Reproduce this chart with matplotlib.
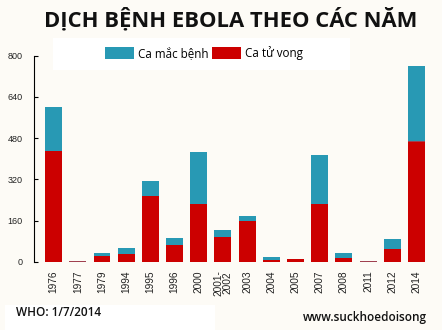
import matplotlib.pyplot as plt
from matplotlib.patches import Patch, Rectangle

# WHO data on Ebola outbreaks, as of 1/7/2014
years = ["1976", "1977", "1979", "1994", "1995", "1996", "2000", "2001-\n2002",
         "2003", "2004", "2005", "2007", "2008", "2011", "2012", "2014"]
cases = [602, 1, 34, 52, 315, 91, 425, 122, 178, 17, 12, 413, 32, 1, 88, 759]
deaths = [431, 1, 22, 31, 254, 66, 224, 96, 157, 7, 10, 224, 15, 1, 50, 467]

teal = "#2899b4"
red = "#cc0000"
bg = "#fdfbf6"

fig = plt.figure(figsize=(4.42, 3.3), dpi=100, facecolor=bg)
ax = fig.add_axes([34 / 442, (330 - 261.7) / 330, (437 - 34) / 442, (261.7 - 55.7) / 330])
ax.set_facecolor(bg)

x = range(len(years))
rest = [c - d for c, d in zip(cases, deaths)]
ax.bar(x, deaths, width=0.7, color=red, edgecolor="none", zorder=2)
ax.bar(x, rest, bottom=deaths, width=0.7, color=teal, edgecolor="none", zorder=2)
# thin seam between the two parts of each bar
ax.bar(x, [0.9] * len(years), bottom=[d - 0.5 for d in deaths], width=0.7,
       color="#a04050", edgecolor="none", zorder=3)

ax.set_xlim(-0.81, 15.85)
ax.set_ylim(0, 800)
ax.set_yticks([0, 160, 320, 480, 640, 800])
ax.set_xticks(list(x))
ax.set_xticklabels(years, rotation=90, fontsize=7.3, family="Liberation Sans",
                   color="#222222", linespacing=0.8)
for lab in ax.get_yticklabels():
    lab.set_family("Liberation Sans")
ax.tick_params(axis="y", direction="in", length=3, width=0.8, labelsize=6.5,
               pad=8, labelcolor="#222222")
ax.tick_params(axis="x", length=0, pad=6)
for s in ["top", "right", "bottom"]:
    ax.spines[s].set_visible(False)
ax.spines["left"].set_linewidth(0.8)

# title
fig.text(0.523, 0.94, "DỊCH BỆNH EBOLA THEO CÁC NĂM", ha="center", va="center",
         fontsize=15.8, fontweight="bold", family="Open Sans", color="#111111")

# legend on a white strip
fig.patches.append(Rectangle((53 / 442, (330 - 70) / 330), 297 / 442, 32 / 330,
                             transform=fig.transFigure, facecolor="white",
                             edgecolor="none", zorder=0))
handles = [Patch(facecolor=teal, label="Ca mắc bệnh"),
           Patch(facecolor=red, label="Ca tử vong")]
fig.legend(handles=handles, loc="center left", bbox_to_anchor=(99 / 442, (330 - 53) / 330),
           ncol=2, frameon=False, prop={"family": "Open Sans", "size": 8.4},
           handlelength=2.5, handleheight=1.1, handletextpad=0.35, columnspacing=0.3,
           borderpad=0)

# footer
fig.patches.append(Rectangle((5 / 442, 0), 210 / 442, 25 / 330,
                             transform=fig.transFigure, facecolor="white",
                             edgecolor="none", zorder=0))
fig.text(16 / 442, (330 - 313) / 330, "WHO: 1/7/2014", ha="left", va="center",
         fontsize=8.5, fontweight="semibold", family="Open Sans", color="#111111")
fig.text(427 / 442, (330 - 318) / 330, "www.suckhoedoisong", ha="right", va="center",
         fontsize=8.5, fontweight="semibold", family="Open Sans", color="#111111")

fig.savefig("out.png", dpi=100, facecolor=bg)
